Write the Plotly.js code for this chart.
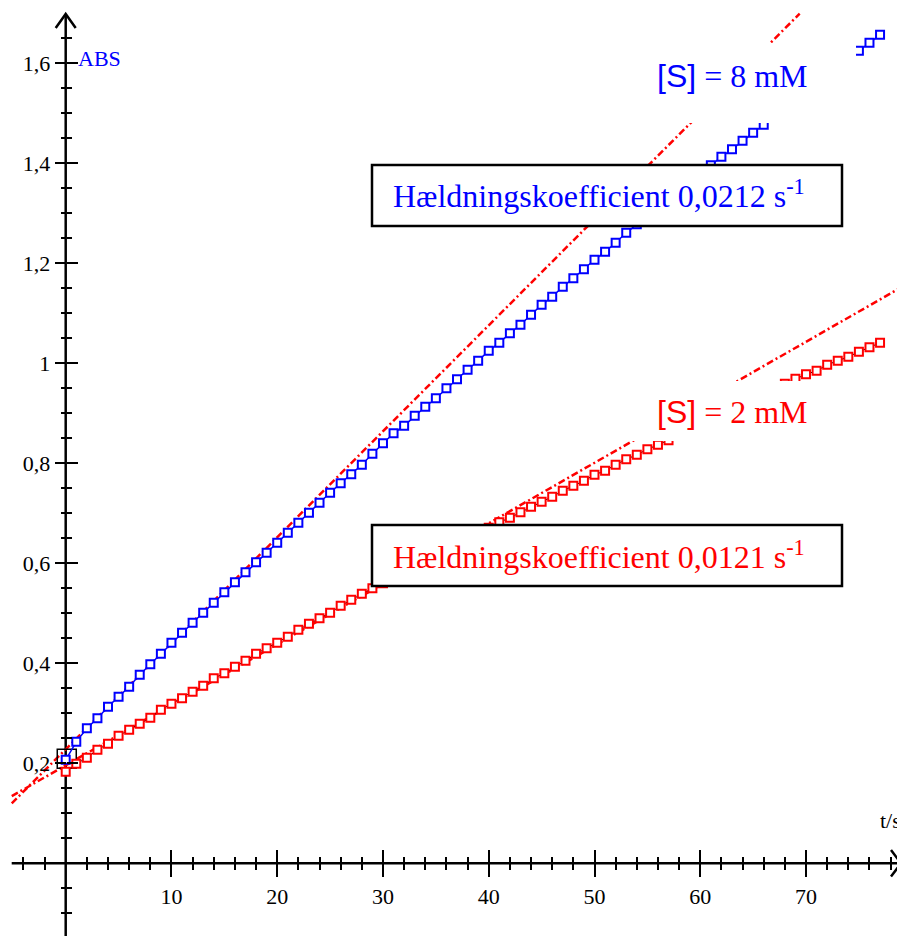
<!DOCTYPE html>
<html>
<head>
<meta charset="utf-8">
<script src="https://cdn.plot.ly/plotly-3.0.1.min.js"></script>
<style>html,body{margin:0;padding:0;background:#fff;}#chart{width:897px;height:936px;}</style>
</head>
<body>
<div id="chart"></div>
<script>
// ---------- data ----------
const timeS = [0,1,2,3,4,5,6,7,8,9,10,11,12,13,14,15,16,17,18,19,20,21,22,23,24,25,26,27,28,29,30,31,32,33,34,35,36,37,38,39,40,41,42,43,44,45,46,47,48,49,50,51,52,53,54,55,56,57,58,59,60,61,62,63,64,65,66,67,68,69,70,71,72,73,74,75,76,77];
const absS8mM = [0.207,0.243,0.270,0.290,0.313,0.333,0.353,0.377,0.398,0.419,
  0.441,0.461,0.481,0.501,0.521,0.542,0.562,0.582,0.602,0.621,
  0.641,0.661,0.681,0.701,0.721,0.741,0.760,0.778,0.797,0.819,
  0.840,0.860,0.875,0.895,0.913,0.930,0.950,0.968,0.987,1.005,
  1.025,1.041,1.060,1.077,1.097,1.117,1.133,1.153,1.170,1.188,
  1.207,1.223,1.241,1.261,1.278,1.295,1.312,1.329,1.346,1.362,
  1.379,1.396,1.413,1.428,1.445,1.461,1.477,1.493,1.509,1.526,
  1.542,1.559,1.576,1.592,1.609,1.625,1.641,1.657];
const absS2mM = [0.183,0.199,0.211,0.227,0.239,0.255,0.267,0.279,0.291,0.307,
  0.319,0.330,0.343,0.355,0.370,0.380,0.393,0.405,0.419,0.430,
  0.441,0.453,0.467,0.479,0.490,0.501,0.515,0.527,0.539,0.550,
  0.560,0.571,0.582,0.594,0.605,0.616,0.627,0.638,0.649,0.660,
  0.671,0.682,0.691,0.702,0.713,0.723,0.733,0.745,0.755,0.765,
  0.777,0.785,0.797,0.808,0.817,0.828,0.837,0.846,0.856,0.866,
  0.877,0.887,0.897,0.908,0.918,0.928,0.939,0.949,0.959,0.969,
  0.978,0.985,0.997,1.005,1.013,1.023,1.032,1.041];
// fitted lines (slope, intercept, extent)
const fitSlope = [0.0212, 0.0121];
const fitIntercept = [0.228, 0.196];
const fitStart = [-5.1, -5.1];
const fitEnd = [69.4, 80];
// odd marker at the origin
const markT = [0.1];
const markA = [0.209];
// ticks
const xTickVals = [10,20,30,40,50,60,70];
const xTickText = ['10','20','30','40','50','60','70'];
const yTickVals = [0.2,0.4,0.6,0.8,1.0,1.2,1.4,1.6];
const yTickText = ['0,2','0,4','0,6','0,8','1','1,2','1,4','1,6'];
const labels = {
  y: 'ABS', x: 't/s',
  slope8: 'Hældningskoefficient 0,0212 s<sup>-1</sup>',
  slope2: 'Hældningskoefficient 0,0121 s<sup>-1</sup>',
  conc8: '<span style="font-family:Liberation Sans">[S]</span> = 8 mM',
  conc2: '<span style="font-family:Liberation Sans">[S]</span> = 2 mM'
};

// ---------- geometry ----------
const W = 897, H = 936;
const X0PX = 65.7, XPX = 10.576, Y0PX = 863.3, YPX = 500;
const px2x = p => (p - X0PX) / XPX;
const py2y = p => (Y0PX - p) / YPX;
const xRange = [px2x(0), px2x(W)];
const yRange = [py2y(H), py2y(0)];
const xPos = 1 - Y0PX / H;
const yPos = X0PX / W;

const xMinor = [];
for (let v = -4; v <= 78; v += 2) if (v % 10 !== 0) xMinor.push(v);
const yMinor = [];
for (let k = -2; k <= 33; k++) if (k % 4 !== 0) yMinor.push(+(k * 0.05).toFixed(2));

const SERIF = 'Liberation Serif, Times New Roman, serif';
const BLUE = '#0000ff', RED = '#ff0000';

const fitTraces = fitSlope.map((m, i) => ({
  x: [fitStart[i], fitEnd[i]],
  y: [fitIntercept[i] + m * fitStart[i], fitIntercept[i] + m * fitEnd[i]],
  mode: 'lines', type: 'scatter', hoverinfo: 'skip',
  line: {color: RED, width: 2.5, dash: '7px,3px,2px,3px'}
}));

const traces = [
  ...fitTraces,
  {x: markT, y: markA, mode: 'markers', type: 'scatter',
   marker: {symbol: 'square-open', size: 19, color: '#000', line: {width: 1.5, color: '#000'}}},
  {x: timeS, y: absS2mM, mode: 'lines+markers', type: 'scatter',
   line: {color: '#000', width: 1},
   marker: {symbol: 'square', size: 8, color: '#fff', line: {color: RED, width: 2}}},
  {x: timeS, y: absS8mM, mode: 'lines+markers', type: 'scatter',
   line: {color: BLUE, width: 1.5},
   marker: {symbol: 'square', size: 8, color: '#fff', line: {color: BLUE, width: 2}}},
  {x: [], y: [], xaxis: 'x2', yaxis: 'y2', type: 'scatter', mode: 'markers', hoverinfo: 'skip'}
];

const tickFont = {family: SERIF, size: 22, color: '#000'};
const baseX = {range: xRange, domain: [0, 1], anchor: 'free', position: xPos,
  showline: false, zeroline: false, showgrid: false, fixedrange: true,
  tickmode: 'array', tickvals: xTickVals, ticktext: xTickText,
  ticklen: 13, tickwidth: 2, tickcolor: '#000', tickfont: tickFont};
const baseY = {range: yRange, domain: [0, 1], anchor: 'free', position: yPos,
  showline: false, zeroline: false, showgrid: false, fixedrange: true,
  tickmode: 'array', tickvals: yTickVals, ticktext: yTickText,
  ticklen: 11, tickwidth: 2, tickcolor: '#000', tickfont: tickFont};

const rect = (x0, y0, x1, y1, line) => ({type: 'rect', xref: 'x', yref: 'y', layer: 'above',
  x0: px2x(x0), x1: px2x(x1), y0: py2y(y0), y1: py2y(y1),
  fillcolor: '#fff', line: line ? {color: '#000', width: 2.5} : {width: 0}});

const shapes = [
  // axis lines
  {type: 'line', xref: 'x', yref: 'y', layer: 'below', x0: px2x(11.7), x1: px2x(901), y0: 0, y1: 0, line: {color: '#000', width: 2.5}},
  {type: 'line', xref: 'x', yref: 'y', layer: 'below', x0: 0, x1: 0, y0: py2y(H + 5), y1: py2y(14), line: {color: '#000', width: 2.5}},
  // arrow heads
  {type: 'path', xref: 'x', yref: 'y', layer: 'below',
   path: `M ${px2x(55.7)} ${py2y(28)} L 0 ${py2y(14)} L ${px2x(75.7)} ${py2y(28)}`, line: {color: '#000', width: 2.5}},
  {type: 'path', xref: 'x', yref: 'y', layer: 'below',
   path: `M ${px2x(891)} ${py2y(850)} L ${px2x(901)} 0 L ${px2x(891)} ${py2y(876.6)}`, line: {color: '#000', width: 2.5}},
  // white covers behind the concentration labels
  rect(610, 43, 856, 123, false),
  rect(615, 381, 850, 441, false),
  // boxes
  rect(372, 165, 842, 226, true),
  rect(372, 525, 842, 586, true)
];

const ann = (text, px, py, color, size, xanchor) => ({
  text, x: px2x(px), y: py2y(py), xref: 'x', yref: 'y', showarrow: false,
  xanchor: xanchor || 'left', yanchor: 'middle',
  font: {family: SERIF, size, color}
});

const layout = {
  width: W, height: H,
  margin: {l: 0, r: 0, t: 0, b: 0, pad: 0},
  paper_bgcolor: '#fff', plot_bgcolor: '#fff',
  showlegend: false, separators: ',.',
  xaxis: Object.assign({}, baseX, {ticks: 'outside', showticklabels: true,
    minor: {tickmode: 'array', tickvals: xMinor, ticks: 'outside', ticklen: 6, tickwidth: 2, tickcolor: '#000'}}),
  xaxis2: Object.assign({}, baseX, {overlaying: 'x', ticks: 'inside', showticklabels: false,
    minor: {tickmode: 'array', tickvals: xMinor, ticks: 'inside', ticklen: 6, tickwidth: 2, tickcolor: '#000'}}),
  yaxis: Object.assign({}, baseY, {ticks: 'outside', showticklabels: true,
    minor: {tickmode: 'array', tickvals: yMinor, ticks: 'outside', ticklen: 5, tickwidth: 2, tickcolor: '#000'}}),
  yaxis2: Object.assign({}, baseY, {overlaying: 'y', ticks: 'inside', showticklabels: false,
    minor: {tickmode: 'array', tickvals: yMinor, ticks: 'inside', ticklen: 5, tickwidth: 2, tickcolor: '#000'}}),
  shapes,
  annotations: [
    ann(labels.y, 76, 58, BLUE, 22),
    ann(labels.x, 878, 820, '#000', 22),
    ann(labels.slope8, 391, 194, BLUE, 32),
    ann(labels.slope2, 391, 555, RED, 32),
    ann(labels.conc8, 655, 76, BLUE, 32),
    ann(labels.conc2, 655, 412, RED, 32)
  ]
};

Plotly.newPlot('chart', traces, layout, {staticPlot: true, displayModeBar: false});
</script>
</body>
</html>
